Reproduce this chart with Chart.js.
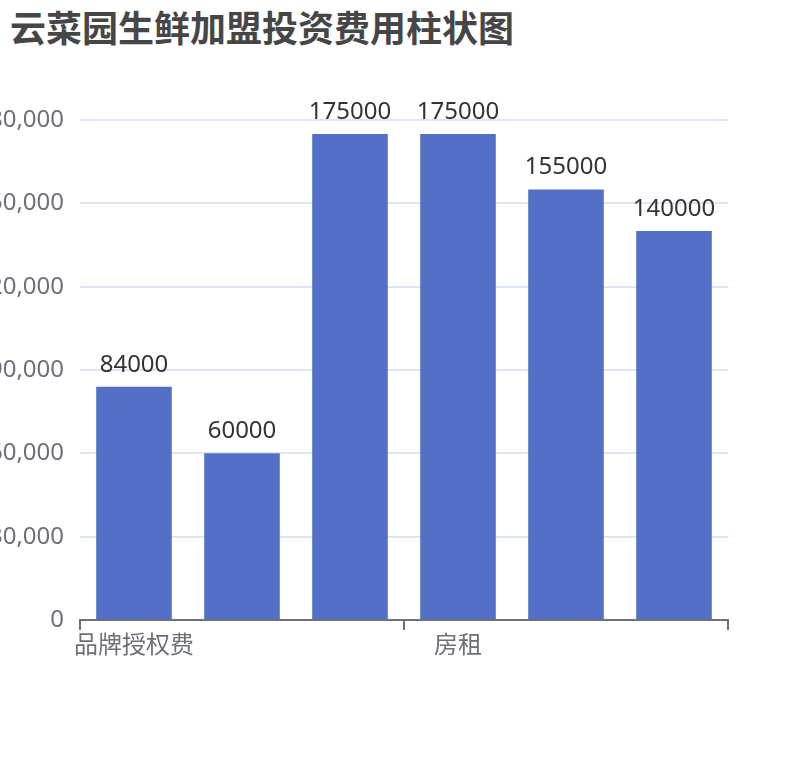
<!DOCTYPE html>
<html>
<head>
<meta charset="utf-8">
<script src="https://cdn.jsdelivr.net/npm/chart.js@4.4.0/dist/chart.umd.min.js"></script>
<style>
html, body { margin: 0; padding: 0; background: #fff; overflow: hidden; }
#wrap { position: relative; width: 810px; height: 760px; overflow: hidden; }
#title {
    position: absolute; left: 10px; top: 8px;
    font: bold 36px "Noto Sans CJK SC", sans-serif;
    line-height: 36px; color: #464646; white-space: nowrap;
}
#chart { position: absolute; left: -40px; top: 0; }
</style>
</head>
<body>
<div id="wrap">
    <div id="title">云菜园生鲜加盟投资费用柱状图</div>
    <canvas id="chart" width="850" height="760"></canvas>
</div>
<script>
// categories (only some labels fit under the axis)
const categories = ['品牌授权费', '保证金', '装修费', '房租', '设备费', '首批货款'];
const costValues = [84000, 60000, 175000, 175000, 155000, 140000];
const yTicks = [0, 30000, 60000, 90000, 120000, 150000, 180000];
const shownLabels = [0, 3];

const font = '"Noto Sans", "Noto Sans CJK SC", sans-serif';
const axisGray = '#6E7079';

// value labels above each bar
const barLabels = {
    id: 'barLabels',
    afterDatasetsDraw(chart) {
        const ctx = chart.ctx;
        const meta = chart.getDatasetMeta(0);
        ctx.save();
        ctx.font = '24px ' + font;
        ctx.fillStyle = '#333';
        ctx.textAlign = 'center';
        ctx.textBaseline = 'bottom';
        meta.data.forEach((bar, i) => {
            ctx.fillText(String(costValues[i]), bar.x, bar.y - 10);
        });
        ctx.restore();
    }
};

// tick marks only on every third category boundary
function tickMarkColor(c) {
    if (c.index === undefined || c.index % 3 === 0) return axisGray;
    return 'rgba(0,0,0,0)';
}

new Chart(document.getElementById('chart'), {
    type: 'bar',
    data: {
        labels: categories,
        datasets: [{
            data: costValues,
            backgroundColor: '#5470C6',
            borderWidth: 0,
            categoryPercentage: 1,
            barPercentage: 0.7
        }]
    },
    options: {
        responsive: false,
        animation: false,
        layout: { padding: { left: 0, right: 82, top: 120, bottom: 60 } },
        plugins: {
            legend: { display: false },
            tooltip: { enabled: false }
        },
        scales: {
            x: {
                afterFit(scale) { scale.height = 80; },
                grid: {
                    drawOnChartArea: false,
                    drawTicks: true,
                    tickLength: 10,
                    lineWidth: 2,
                    color: tickMarkColor,
                    tickColor: tickMarkColor
                },
                border: { display: true, color: axisGray, width: 2 },
                ticks: {
                    autoSkip: false,
                    maxRotation: 0,
                    minRotation: 0,
                    padding: 2,
                    color: axisGray,
                    font: { size: 24, family: font },
                    callback: function (v, i) {
                        return shownLabels.includes(i) ? categories[i] : '';
                    }
                }
            },
            y: {
                min: yTicks[0],
                max: yTicks[yTicks.length - 1],
                afterFit(scale) { scale.width = 120; },
                afterBuildTicks(scale) {
                    scale.ticks = yTicks.map(v => ({ value: v }));
                },
                grid: { color: '#E0E6F1', lineWidth: 2, drawTicks: false },
                border: { display: false },
                ticks: {
                    padding: 16,
                    color: axisGray,
                    font: { size: 24, family: font },
                    callback: v => v.toLocaleString('en-US')
                }
            }
        }
    },
    plugins: [barLabels]
});
</script>
</body>
</html>
